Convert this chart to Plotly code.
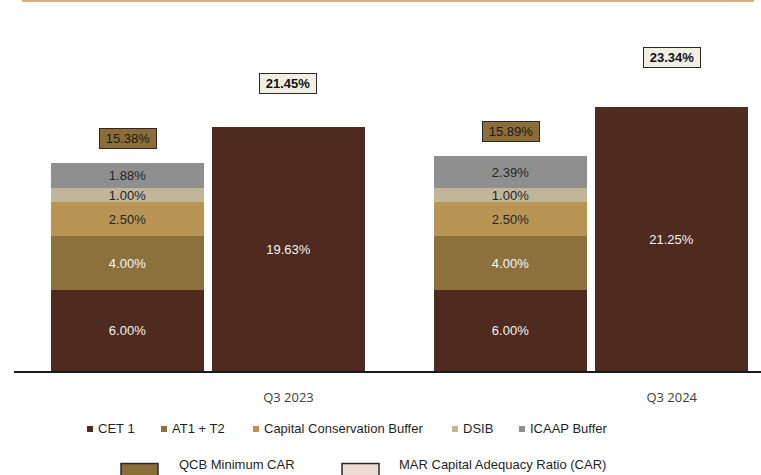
import plotly.graph_objects as go

# ---------------- data ----------------
categories = ["Q3 2023", "Q3 2024"]
series_names = ["CET 1", "AT1 + T2", "Capital Conservation Buffer", "DSIB", "ICAAP Buffer"]
cet1 = [6.00, 6.00]
at1_t2 = [4.00, 4.00]
ccb = [2.50, 2.50]
dsib = [1.00, 1.00]
icaap = [1.88, 2.39]
qcb_min_car = [15.38, 15.89]
mar_cet1 = [19.63, 21.25]
mar_car = [21.45, 23.34]
box_legend = ["QCB Minimum CAR", "MAR Capital Adequacy Ratio (CAR)"]

# ---------------- style ----------------
series_colors = ["#4f2a1e", "#8d713d", "#b99555", "#c1b59a", "#8f8f8f"]
text_colors = ["#f4f4f4", "#f4f4f4", "#262626", "#262626", "#262626"]
W, H = 761, 475
FONT = "Arial, Liberation Sans, sans-serif"


def px(x):
    return x / W


def py(y):
    return 1 - y / H


group = [0, 1]
off = 0.21
bw = 0.40
stack_x = [g - off for g in group]
car_x = [g + off for g in group]

fig = go.Figure()
stack_values = [cet1, at1_t2, ccb, dsib, icaap]
for name, vals, col, tcol in zip(series_names, stack_values, series_colors, text_colors):
    fig.add_trace(go.Bar(
        x=stack_x, y=vals, name=name, width=bw,
        marker=dict(color=col, line=dict(width=0)),
        text=[f"{v:.2f}%" for v in vals], textposition="inside",
        insidetextanchor="middle", textangle=0, constraintext="none",
        textfont=dict(family=FONT, size=13, color=tcol),
        xaxis="x", yaxis="y", showlegend=False,
    ))

fig.add_trace(go.Bar(
    x=car_x, y=mar_cet1, name="MAR CET 1", width=bw,
    marker=dict(color=series_colors[0], line=dict(width=0)),
    text=[f"{v:.2f}%" for v in mar_cet1], textposition="inside",
    insidetextanchor="middle", textangle=0, constraintext="none",
    textfont=dict(family=FONT, size=13, color="#f4f4f4"),
    xaxis="x", yaxis="y2", showlegend=False,
))

annotations = []
# QCB minimum CAR boxes
for xv, v in zip(stack_x, qcb_min_car):
    annotations.append(dict(
        x=xv, y=v, xref="x", yref="y", text=f"{v:.2f}%", showarrow=False,
        yanchor="bottom", yshift=14, width=54, height=17,
        bgcolor="#8c6d38", bordercolor="#2a2a2a", borderwidth=1, borderpad=1,
        font=dict(family=FONT, size=13, color="#1a1a1a"),
    ))
# MAR total CAR boxes
for xv, v in zip(car_x, mar_car):
    annotations.append(dict(
        x=xv, y=v, xref="x", yref="y", text=f"<b>{v:.2f}%</b>", showarrow=False,
        yanchor="middle", yshift=-2, width=54, height=17,
        bgcolor="#f1eee4", bordercolor="#2a2a2a", borderwidth=1, borderpad=1,
        font=dict(family=FONT, size=13, color="#111111"),
    ))

shapes = []
# thin top rule
shapes.append(dict(type="line", xref="paper", yref="paper",
                   x0=px(22), x1=px(754), y0=py(1), y1=py(1),
                   line=dict(color="#dcae76", width=2)))

# legend row 1 (small squares)
leg_sq_left = [87, 161, 253, 452, 519]
leg_y = 429
for name, col, x0 in zip(series_names, series_colors, leg_sq_left):
    shapes.append(dict(type="rect", xref="paper", yref="paper",
                       x0=px(x0), x1=px(x0 + 6), y0=py(leg_y + 3), y1=py(leg_y - 3),
                       fillcolor=col, line=dict(width=0)))
    annotations.append(dict(x=px(x0 + 8.5), y=py(leg_y - 0.5), xref="paper", yref="paper",
                            text=name, showarrow=False, xanchor="left", yanchor="middle",
                            font=dict(family=FONT, size=13, color="#1f1f1f")))

# legend row 2 (box styles)
box_left = [121, 342]
box_fill = ["#8c6d38", "#eddcd4"]
box_text_left = [177, 397]
for label, x0, fcol, tx in zip(box_legend, box_left, box_fill, box_text_left):
    shapes.append(dict(type="rect", xref="paper", yref="paper",
                       x0=px(x0), x1=px(x0 + 37), y0=py(481), y1=py(463.5),
                       fillcolor=fcol, line=dict(color="#2a2a2a", width=1.5)))
    annotations.append(dict(x=px(tx), y=py(474), xref="paper", yref="paper",
                            text=label, showarrow=False, xanchor="left", yanchor="bottom",
                            font=dict(family=FONT, size=13, color="#1f1f1f")))

y_top, y_base = 20, 371
px_per_pct = 13.52
px_per_pct2 = 12.425
plot_h = y_base - y_top

fig.update_layout(
    width=W, height=H,
    margin=dict(l=0, r=0, t=0, b=0),
    paper_bgcolor="white", plot_bgcolor="white",
    barmode="stack", bargap=0,
    uniformtext=dict(minsize=13, mode="show"),
    showlegend=False,
    xaxis=dict(domain=[px(14), 1], range=[(14 - 208) / 383.25, (761 - 208) / 383.25],
               tickvals=car_x, ticktext=categories, showgrid=False, zeroline=False,
               showline=True, linecolor="#1a1a1a", linewidth=1.5, ticks="",
               ticklabelstandoff=14,
               tickfont=dict(family="Open Sans, sans-serif", size=13, color="#404040")),
    yaxis=dict(domain=[py(y_base), py(y_top)], range=[0, plot_h / px_per_pct],
               visible=False, showgrid=False, zeroline=False),
    yaxis2=dict(domain=[py(y_base), py(y_top)], range=[0, plot_h / px_per_pct2],
                overlaying="y", visible=False, showgrid=False, zeroline=False),
    annotations=annotations, shapes=shapes,
)

fig.write_html("out.html", config={"displayModeBar": False},
               post_script="document.body.style.margin='0';")
